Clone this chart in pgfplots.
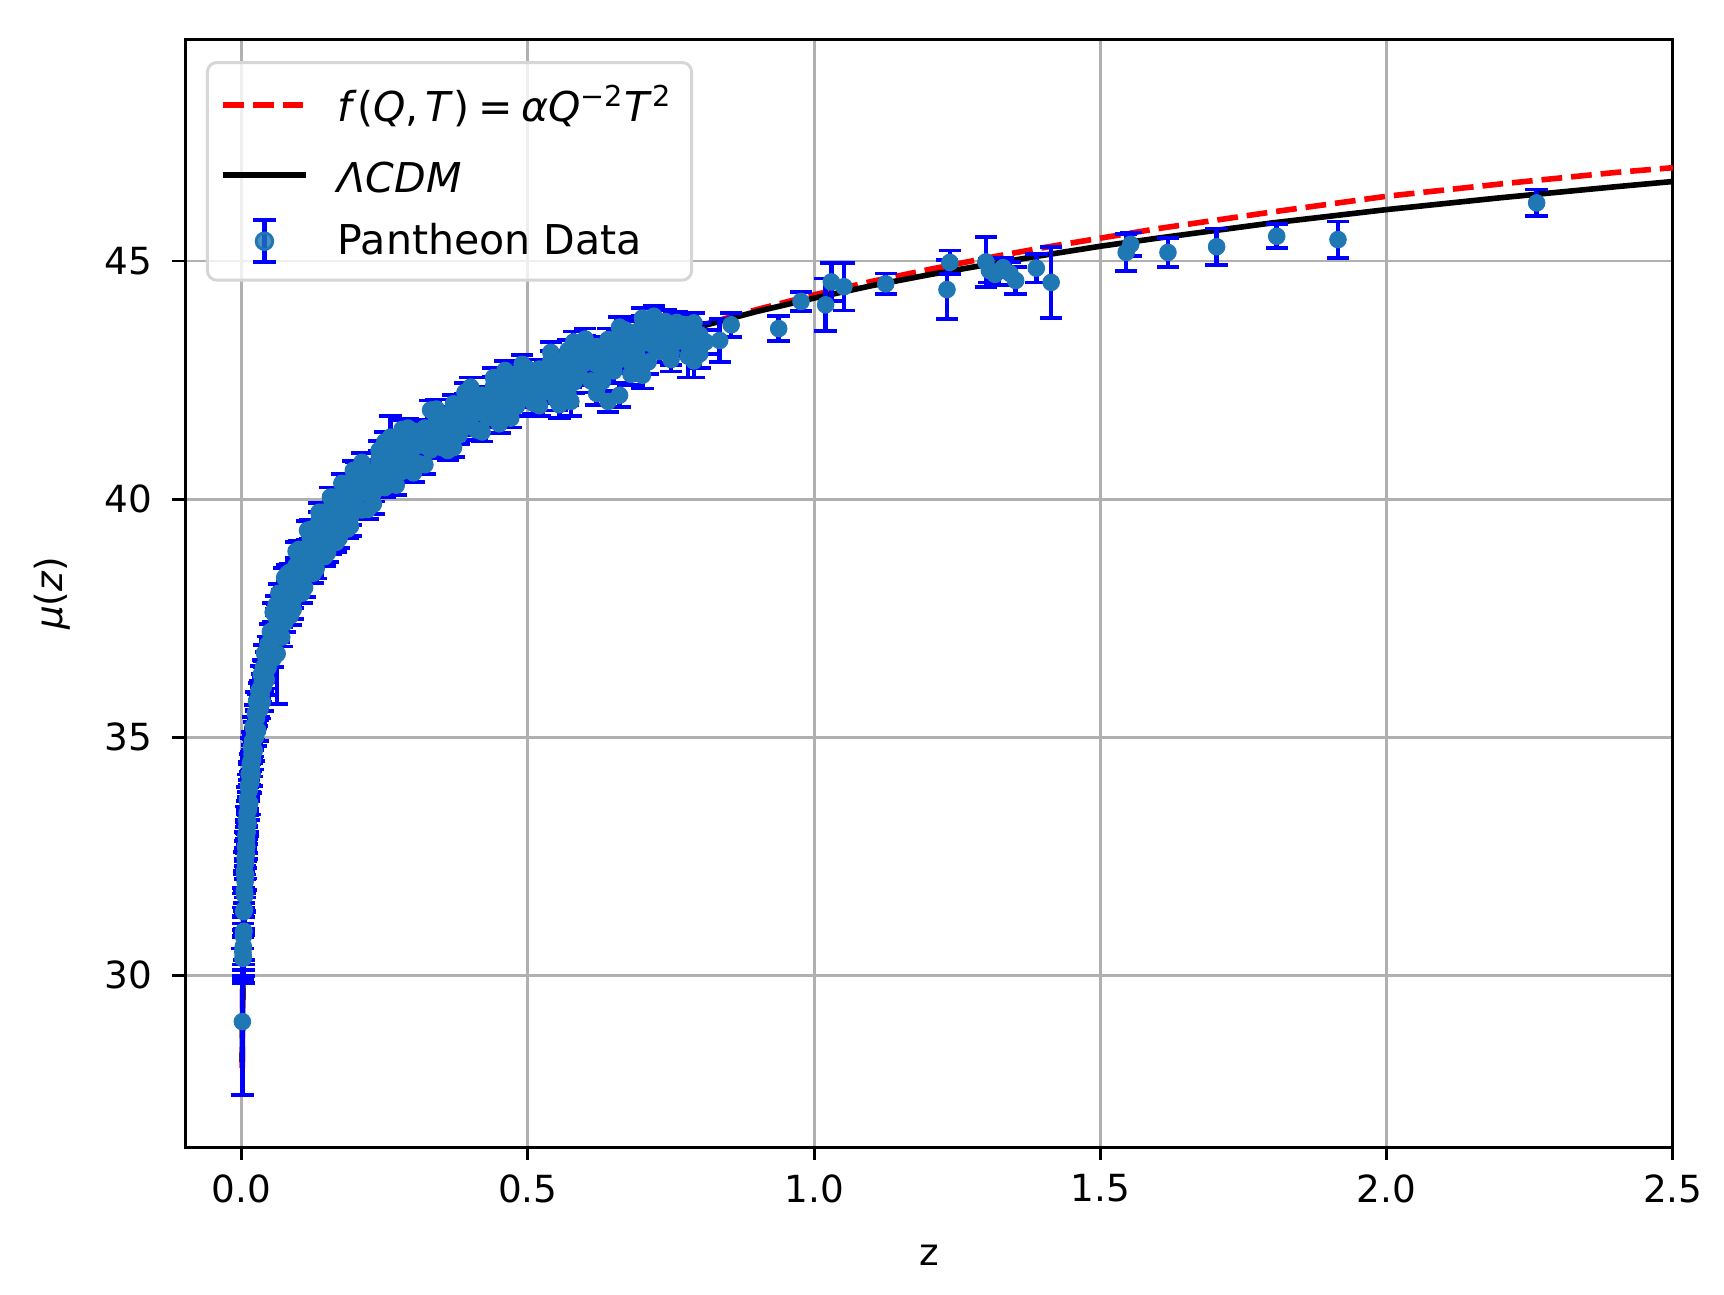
\documentclass[border=0pt]{standalone}
\usepackage{fontspec}
\setmainfont{DejaVu Sans}[ItalicFont={DejaVu Sans Oblique}]
\usepackage{pgfplots}
\usepackage{pgfplotstable}
\pgfplotsset{compat=1.18}
\definecolor{tabblue}{HTML}{1F77B4}
\definecolor{gridgray}{HTML}{B0B0B0}
\definecolor{legedge}{HTML}{D6D6D6}
\pgfplotsset{
  lineleg/.style={legend image code/.code={\draw[##1] (0pt,0pt) -- (22pt,0pt);}},
  ebleg/.style={legend image code/.code={
    \path[draw=none,fill=none] (0pt,0pt) -- (22pt,0pt);
    \draw[overlay, blue, solid, line width=1.2pt] (11pt,-5.6pt) -- (11pt,5.6pt);
    \draw[overlay, blue, solid, line width=1pt] (8pt,-5.6pt) -- (14pt,-5.6pt) (8pt,5.6pt) -- (14pt,5.6pt);
    \fill[overlay, tabblue] (11pt,0pt) circle[radius=2.2pt];}}
}

\pgfplotstableread{
z mu err
0.0012 29.02 1.54
0.0020 30.48 0.60
0.0022 30.35 0.45
0.0025 30.55 0.70
0.0028 30.60 0.62
0.0030 30.82 0.60
0.0030 30.39 0.55
0.0035 31.33 0.50
0.0035 30.91 0.80
0.0040 31.35 0.45
0.0040 30.92 0.60
0.0045 31.77 0.42
0.0045 31.37 0.40
0.0050 32.18 0.40
0.0050 31.73 0.38
0.0055 32.09 0.36
0.0055 31.67 0.35
0.0060 32.46 0.35
0.0060 31.96 0.33
0.0065 32.35 0.32
0.0065 32.70 0.31
0.0070 32.10 0.31
0.0070 32.70 0.30
0.0075 32.55 0.30
0.0075 32.92 0.29
0.0080 32.96 0.29
0.0080 32.53 0.28
0.0085 33.26 0.28
0.0085 32.84 0.27
0.0090 33.12 0.27
0.0090 32.69 0.26
0.0095 33.40 0.26
0.0095 33.00 0.25
0.010 33.70 0.25
0.010 33.25 0.24
0.011 33.60 0.24
0.011 33.18 0.26
0.012 33.98 0.23
0.012 33.48 0.22
0.013 33.87 0.22
0.013 34.22 0.25
0.014 33.61 0.24
0.014 34.21 0.21
0.015 34.06 0.21
0.015 34.43 0.22
0.016 34.48 0.20
0.016 34.05 0.23
0.017 34.78 0.20
0.017 34.36 0.19
0.018 34.64 0.19
0.018 34.21 0.24
0.019 34.92 0.19
0.019 34.52 0.20
0.020 35.22 0.20
0.020 34.77 0.18
0.022 35.13 0.18
0.022 34.71 0.21
0.024 35.50 0.18
0.024 35.00 0.19
0.026 35.40 0.17
0.026 35.75 0.20
0.028 35.14 0.22
0.028 35.74 0.17
0.030 35.59 0.17
0.030 35.96 0.18
0.032 36.01 0.17
0.032 35.58 0.19
0.034 36.31 0.18
0.034 35.89 0.16
0.036 36.17 0.16
0.036 35.74 0.20
0.038 36.46 0.16
0.038 36.06 0.17
0.040 36.76 0.17
0.040 36.31 0.16
0.043 36.62 0.16
0.043 36.20 0.18
0.046 36.95 0.16
0.046 36.45 0.17
0.050 36.86 0.15
0.050 37.21 0.17
0.062 36.75 1.05
0.055 36.65 0.18
0.055 37.25 0.15
0.060 37.15 0.16
0.060 37.52 0.17
0.065 37.60 0.15
0.065 37.17 0.18
0.070 37.94 0.16
0.070 37.52 0.15
0.075 37.83 0.15
0.075 37.40 0.19
0.080 38.15 0.16
0.080 37.75 0.15
0.085 38.47 0.17
0.085 38.02 0.15
0.090 38.30 0.15
0.090 37.88 0.17
0.095 38.60 0.16
0.095 38.10 0.16
0.100 38.44 0.15
0.100 38.79 0.17
0.105 38.13 0.18
0.105 38.73 0.15
0.110 38.54 0.15
0.110 38.91 0.16
0.115 38.91 0.15
0.115 38.48 0.17
0.120 39.18 0.17
0.120 38.76 0.15
0.125 39.01 0.15
0.125 38.58 0.18
0.130 39.27 0.16
0.130 38.87 0.15
0.135 39.54 0.18
0.135 39.09 0.15
0.140 39.32 0.15
0.140 38.90 0.17
0.145 39.59 0.16
0.145 39.09 0.16
0.150 39.39 0.15
0.150 39.74 0.18
0.155 39.04 0.19
0.155 39.64 0.15
0.160 39.42 0.15
0.160 39.79 0.17
0.165 39.76 0.16
0.165 39.33 0.17
0.170 40.01 0.18
0.170 39.59 0.15
0.175 39.80 0.15
0.175 39.37 0.19
0.180 40.04 0.16
0.180 39.64 0.16
0.185 40.29 0.18
0.185 39.84 0.15
0.190 40.05 0.15
0.190 39.63 0.18
0.195 40.30 0.17
0.195 39.80 0.16
0.200 40.08 0.15
0.200 40.43 0.18
0.21 39.77 0.19
0.21 40.37 0.16
0.22 40.18 0.16
0.22 40.55 0.17
0.23 40.56 0.16
0.23 40.13 0.18
0.24 40.84 0.18
0.24 40.42 0.16
0.25 40.67 0.16
0.25 40.24 0.20
0.26 40.94 0.17
0.26 40.54 0.16
0.26 41.30 0.45
0.27 41.21 0.19
0.27 40.76 0.16
0.28 41.00 0.16
0.28 40.58 0.18
0.29 41.27 0.17
0.29 40.77 0.17
0.30 41.08 0.16
0.30 41.43 0.19
0.31 40.74 0.20
0.31 41.34 0.16
0.32 41.12 0.16
0.32 41.49 0.18
0.33 41.46 0.17
0.33 41.03 0.18
0.34 41.71 0.19
0.34 41.29 0.16
0.35 41.51 0.16
0.35 41.08 0.20
0.36 41.76 0.17
0.36 41.36 0.17
0.37 42.00 0.19
0.37 41.55 0.16
0.38 41.77 0.17
0.38 41.35 0.19
0.39 42.02 0.18
0.39 41.52 0.17
0.40 41.80 0.17
0.40 42.15 0.19
0.41 41.45 0.21
0.41 42.05 0.17
0.42 41.81 0.17
0.42 42.18 0.18
0.43 42.14 0.18
0.43 41.71 0.19
0.44 42.37 0.20
0.44 41.95 0.17
0.45 42.16 0.17
0.45 41.73 0.21
0.46 42.38 0.18
0.46 41.98 0.18
0.47 42.62 0.20
0.47 42.17 0.17
0.48 42.37 0.18
0.48 41.95 0.20
0.49 42.61 0.19
0.49 42.11 0.18
0.50 42.38 0.18
0.50 42.73 0.20
0.205 40.21 0.15
0.215 40.13 0.16
0.225 40.36 0.15
0.235 40.61 0.16
0.245 40.51 0.15
0.255 40.77 0.16
0.265 40.62 0.17
0.275 40.90 0.15
0.285 41.03 0.16
0.295 40.91 0.16
0.305 41.12 0.15
0.315 41.34 0.17
0.325 41.22 0.16
0.335 41.45 0.17
0.345 41.28 0.17
0.355 41.54 0.16
0.365 41.65 0.17
0.375 41.52 0.17
0.385 41.71 0.16
0.395 41.91 0.18
0.405 41.78 0.17
0.415 42.00 0.18
0.425 41.81 0.18
0.435 42.06 0.17
0.445 42.16 0.18
0.455 42.02 0.18
0.465 42.19 0.17
0.475 42.39 0.19
0.485 42.24 0.18
0.495 42.46 0.19
0.51 42.01 0.22
0.51 42.61 0.18
0.52 42.36 0.19
0.52 42.73 0.20
0.53 42.68 0.19
0.53 42.25 0.21
0.54 42.90 0.21
0.54 42.48 0.19
0.55 42.68 0.19
0.55 42.25 0.23
0.56 42.90 0.20
0.56 42.50 0.20
0.57 43.12 0.22
0.57 42.67 0.19
0.58 42.87 0.20
0.58 42.45 0.22
0.59 43.09 0.21
0.59 42.59 0.20
0.60 42.86 0.20
0.60 43.21 0.22
0.61 42.48 0.24
0.61 43.08 0.20
0.62 42.83 0.20
0.62 43.20 0.21
0.63 43.14 0.21
0.63 42.71 0.22
0.64 43.35 0.23
0.64 42.93 0.20
0.65 43.12 0.20
0.65 42.69 0.24
0.66 43.33 0.21
0.66 42.93 0.21
0.67 43.55 0.23
0.67 43.10 0.20
0.68 43.29 0.21
0.68 42.87 0.23
0.69 43.51 0.22
0.69 43.01 0.21
0.70 43.27 0.21
0.70 43.62 0.23
0.71 42.88 0.25
0.71 43.48 0.21
0.72 43.22 0.21
0.72 43.59 0.22
0.73 43.53 0.22
0.73 43.10 0.23
0.74 43.73 0.24
0.74 43.31 0.21
0.75 43.50 0.21
0.75 43.07 0.25
0.76 43.71 0.22
0.76 43.31 0.22
0.77 43.67 0.22
0.77 43.47 0.21
0.78 43.66 0.22
0.78 43.24 0.24
0.79 43.70 0.20
0.79 43.37 0.22
0.80 43.45 0.25
0.80 43.05 0.30
0.81 43.30 0.25
0.505 42.26 0.20
0.525 42.55 0.19
0.545 42.69 0.20
0.565 42.58 0.21
0.585 42.79 0.20
0.605 43.02 0.21
0.625 42.91 0.20
0.645 43.15 0.21
0.665 42.98 0.22
0.685 43.25 0.21
0.705 43.37 0.22
0.725 43.24 0.22
0.745 43.43 0.22
0.765 43.64 0.22
0.785 43.52 0.23
0.555 41.98 0.28
0.575 42.05 0.30
0.62 42.22 0.24
0.64 42.05 0.22
0.66 42.18 0.25
0.70 42.60 0.28
0.79 42.90 0.35
0.78 43.00 0.45
0.06 37.77 0.20
0.07 37.10 0.20
0.08 38.43 0.18
0.09 37.68 0.20
0.10 38.94 0.18
0.11 38.14 0.20
0.12 39.36 0.20
0.13 38.53 0.20
0.14 39.72 0.20
0.15 38.87 0.20
0.16 40.04 0.20
0.17 39.17 0.20
0.18 40.32 0.20
0.19 39.43 0.20
0.20 40.58 0.20
0.22 39.78 0.20
0.24 41.02 0.20
0.27 40.29 0.20
0.29 41.49 0.20
0.32 40.72 0.20
0.34 41.89 0.20
0.37 41.08 0.20
0.39 42.24 0.20
0.42 41.41 0.20
0.44 42.55 0.20
0.47 41.70 0.20
0.49 42.83 0.20
0.52 41.96 0.22
0.54 43.08 0.22
0.57 42.20 0.22
0.60 43.36 0.22
0.63 42.47 0.22
0.66 43.61 0.22
0.69 42.71 0.22
0.72 43.84 0.22
0.75 42.93 0.25
0.055 37.62 0.20
0.065 38.02 0.20
0.075 38.35 0.20
0.085 37.55 0.20
0.095 38.90 0.20
0.105 38.02 0.20
0.115 39.34 0.20
0.125 38.44 0.20
0.135 39.72 0.20
0.145 38.79 0.20
0.155 40.04 0.20
0.165 39.09 0.20
0.175 40.33 0.20
0.185 39.37 0.20
0.195 40.60 0.20
0.21 40.77 0.20
0.23 39.89 0.20
0.25 41.20 0.20
0.28 41.46 0.20
0.30 40.55 0.20
0.33 41.87 0.20
0.36 41.02 0.20
0.40 42.35 0.20
0.45 41.58 0.20
0.46 42.70 0.20
0.55 42.08 0.22
0.58 43.30 0.22
0.68 42.62 0.22
0.70 43.80 0.22
0.835 43.33 0.45
0.855 43.66 0.25
0.938 43.58 0.26
0.977 44.15 0.20
1.020 44.08 0.55
1.030 44.56 0.40
1.052 44.46 0.50
1.125 44.52 0.22
1.232 44.40 0.62
1.237 44.97 0.25
1.300 44.98 0.52
1.306 44.80 0.25
1.316 44.72 0.22
1.330 44.86 0.20
1.342 44.74 0.24
1.352 44.59 0.29
1.388 44.85 0.30
1.414 44.55 0.74
1.545 45.18 0.39
1.553 45.35 0.25
1.618 45.18 0.31
1.703 45.30 0.38
1.808 45.52 0.25
1.915 45.45 0.38
2.262 46.22 0.28
}\pantheon

\pgfplotstableread{
z mu
0.00095 28.17
0.0015 29.16
0.002 29.79
0.003 30.67
0.004 31.30
0.005 31.78
0.006 32.18
0.008 32.81
0.010 33.30
0.012 33.70
0.015 34.18
0.020 34.82
0.025 35.31
0.030 35.71
0.035 36.06
0.040 36.36
0.050 36.86
0.060 37.27
0.070 37.62
0.080 37.93
0.090 38.20
0.100 38.44
0.110 38.66
0.120 38.86
0.130 39.05
0.140 39.22
0.150 39.39
0.160 39.54
0.170 39.69
0.180 39.82
0.190 39.95
0.200 40.08
0.225 40.36
0.250 40.62
0.275 40.86
0.300 41.08
0.325 41.28
0.350 41.46
0.375 41.64
0.400 41.80
0.450 42.11
0.500 42.38
0.550 42.63
0.600 42.86
0.650 43.07
0.700 43.27
0.750 43.45
0.800 43.62
0.900 43.94
1.000 44.22
1.100 44.48
1.200 44.71
1.300 44.92
1.400 45.12
1.500 45.31
1.600 45.48
1.800 45.80
2.000 46.08
2.200 46.33
2.400 46.56
2.500 46.67
}\lcdm

\pgfplotstableread{
z mu
0.0009 28.05
0.0015 29.16
0.002 29.79
0.003 30.67
0.004 31.30
0.005 31.78
0.006 32.18
0.008 32.81
0.010 33.30
0.012 33.70
0.015 34.18
0.020 34.82
0.025 35.31
0.030 35.71
0.035 36.06
0.040 36.36
0.050 36.86
0.060 37.27
0.070 37.62
0.080 37.93
0.090 38.20
0.100 38.44
0.110 38.66
0.120 38.86
0.130 39.05
0.140 39.22
0.150 39.39
0.160 39.54
0.170 39.69
0.180 39.82
0.190 39.95
0.200 40.08
0.225 40.36
0.250 40.62
0.275 40.86
0.300 41.08
0.325 41.28
0.350 41.46
0.375 41.64
0.400 41.80
0.450 42.11
0.500 42.38
0.550 42.63
0.600 42.86
0.650 43.07
0.700 43.27
0.750 43.46
0.800 43.64
0.900 43.98
1.000 44.29
1.100 44.57
1.200 44.82
1.300 45.06
1.400 45.28
1.500 45.48
1.600 45.68
1.800 46.03
2.000 46.36
2.200 46.62
2.400 46.86
2.500 46.96
}\fqt

\begin{document}
\begin{tikzpicture}
\useasboundingbox (-49.60pt,-39.61pt) rectangle (411.85pt,307.01pt);
\begin{axis}[
  at={(0pt,0pt)}, anchor=south west,
  width=398.17pt, height=296.49pt, scale only axis,
  xmin=-0.0985, xmax=2.5, ymin=26.387, ymax=49.657,
  xtick={0,0.5,1,1.5,2,2.5}, ytick={30,35,40,45},
  grid=major, major grid style={gridgray, line width=0.8pt},
  axis line style={black, line width=0.8pt},
  tick style={black, line width=0.8pt}, major tick length=3.5pt,
  tick align=outside, tick pos=left,
  /pgf/number format/assume math mode=true,
  tick label style={font=\fontsize{10}{12}\selectfont, text=black},
  xticklabel style={anchor=north, inner sep=0pt, yshift=-3.6pt,
    /pgf/number format/fixed, /pgf/number format/fixed zerofill, /pgf/number format/precision=1},
  yticklabel style={anchor=east, inner sep=0pt, xshift=-5.2pt},
  xlabel={z}, ylabel={\textit{μ}(\textit{z})},
  xlabel style={at={(axis description cs:0.5,0)}, anchor=base, yshift=-31.8pt, inner sep=0pt, font=\fontsize{10}{12}\selectfont},
  ylabel style={at={(axis description cs:-0.0894,0.5)}, anchor=center, inner sep=0pt, font=\fontsize{10}{12}\selectfont},
  legend cell align=left,
  legend style={at={(axis description cs:0.0139,0.9804)}, anchor=north west,
    draw=legedge, line width=0.8pt, fill=white, fill opacity=0.8, text opacity=1,
    rounded corners=2.5pt, inner xsep=3.5pt, inner ysep=5.5pt,
    font=\fontsize{11}{13}\selectfont, row sep=6.7pt, column sep=7.9pt,
    nodes={inner sep=0pt}},
]
\addplot[red, line width=1.5pt, dash pattern=on 5.55pt off 2.4pt, lineleg] table[x=z,y=mu] {\fqt};
\addlegendentry{\rule[-4.9pt]{0pt}{15.2pt}\textit{f}(\textit{Q},\,\textit{T})\hspace{2.3pt}=\hspace{2.3pt}\textit{αQ}\textsuperscript{−2}\textit{T}\textsuperscript{2}\kern1.5pt\rule{0pt}{1pt}}
\addplot[black, line width=1.5pt, lineleg] table[x=z,y=mu] {\lcdm};
\addlegendentry{\rule[-2.7pt]{0pt}{13.4pt}\textit{ΛCDM}}
\addlegendimage{ebleg}
\addlegendentry{\rule[-2.7pt]{0pt}{11pt}Pantheon Data}
% error bars (vertical lines)
\addplot[blue, only marks, mark=*, mark size=0.5pt, forget plot,
  error bars/.cd, y dir=both, y explicit, error mark=none,
  error bar style={draw=blue, solid, line width=1.2pt}]
  table[x=z, y=mu, y error=err] {\pantheon};
% caps
\addplot[blue, only marks, mark=-, mark size=3pt, mark options={solid, line width=1pt, draw=blue}, forget plot]
  table[x=z, y expr=\thisrow{mu}+\thisrow{err}] {\pantheon};
\addplot[blue, only marks, mark=-, mark size=3pt, mark options={solid, line width=1pt, draw=blue}, forget plot]
  table[x=z, y expr=\thisrow{mu}-\thisrow{err}] {\pantheon};
% markers
\addplot[only marks, mark=*, mark size=2.2pt, mark options={fill=tabblue, draw=tabblue, line width=0.3pt}, forget plot]
  table[x=z, y=mu] {\pantheon};
\end{axis}
\end{tikzpicture}
\end{document}
